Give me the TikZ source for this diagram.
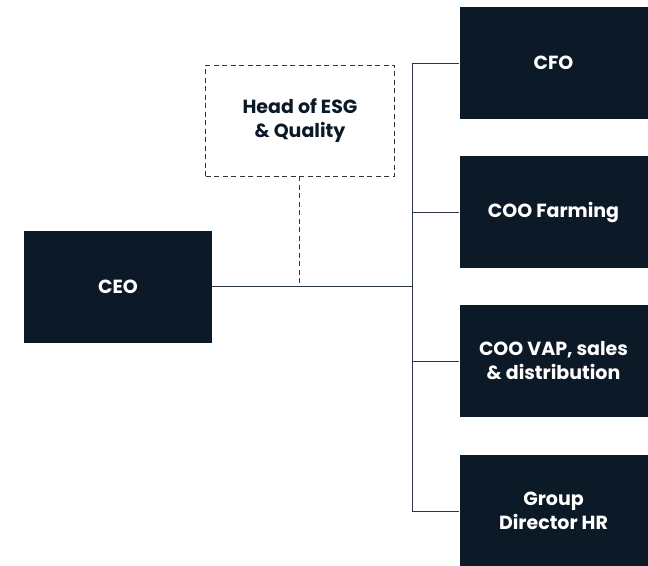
\documentclass[tikz,border=0pt]{standalone}
\usepackage{fontspec}
\setmainfont{Poppins}
\definecolor{navy}{HTML}{0C1A27}
\definecolor{linecol}{HTML}{2A3642}
\tikzset{
  role/.style={rectangle, fill=navy, text=white, minimum width=188pt,
    minimum height=112pt, inner sep=0pt, align=center,
    font=\fontsize{19}{24}\selectfont\bfseries},
  advisor/.style={role, fill=none, text=navy, draw=linecol, line width=0.8pt,
    dash pattern=on 5pt off 3.5pt, minimum width=189pt, minimum height=111pt},
  link/.style={draw=linecol, line width=0.8pt}
}

\begin{document}
\begin{tikzpicture}[x=1pt, y=-1pt]
  \useasboundingbox (0,0) rectangle (648,565);
  \clip (0,0) rectangle (648,565);

  \node[role] (ceo) at (118,286.5) {CEO};
  \node[advisor] (esg) at (300,120.5) {Head of ESG\\ \& Quality};

  \node[role] (cfo) at (553.5,63) {CFO};
  \node[role] (farming) at (553.5,212) {COO Farming};
  \node[role] (vap) at (553.5,361) {COO VAP, sales\\ \& distribution};
  \node[role] (hr) at (553.5,511) {Group\\ Director HR};

  \coordinate (bus) at (412,286.5);

  % reporting lines
  \draw[link] (ceo.east) -- (bus);
  \draw[link] (bus |- cfo.west) -- (bus |- hr.west);
  \foreach \n in {cfo, farming, vap, hr}
    \draw[link] (bus |- \n.west) -- (\n.west);

  % dotted line to ESG
  \draw[link, dash pattern=on 5pt off 3.5pt] ([xshift=-1pt]esg.south) -- ([xshift=-1pt]esg.south |- ceo.east);
\end{tikzpicture}
\end{document}
